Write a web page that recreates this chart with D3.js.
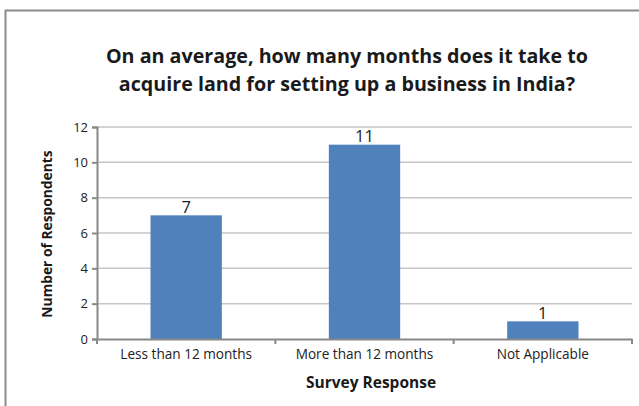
<!DOCTYPE html>
<html><head><meta charset="utf-8">
<script src="https://cdn.jsdelivr.net/npm/d3@7"></script>
<style>body{margin:0;background:#fff}svg{display:block}</style>
</head><body>
<svg id="c" width="639" height="406"></svg>
<script>
const categories = ["Less than 12 months", "More than 12 months", "Not Applicable"];
const values = [7, 11, 1];
const yTicks = [0, 2, 4, 6, 8, 10, 12];
const titleLines = ["On an average, how many months does it take to", "acquire land for setting up a business in India?"];
const xTitle = "Survey Response";
const yTitle = "Number of Respondents";

const svg = d3.select("#c");
const font = "'Open Sans', 'DejaVu Sans', sans-serif";
svg.append("rect").attr("x", 5.5).attr("y", 10.5).attr("width", 700).attr("height", 500)
  .attr("fill", "#fff").attr("stroke", "#8c8c8c").attr("stroke-width", 2);

const L = 97, R = 632, T = 127, B = 339;
const x = d3.scaleBand().domain(categories).range([L, R]).paddingInner(0.6).paddingOuter(0.3);
const y = d3.scaleLinear().domain([0, 12]).range([B, T]);

// gridlines
svg.append("g").selectAll("line").data(yTicks.filter(d => d > 0)).join("line")
  .attr("x1", L).attr("x2", R).attr("y1", d => y(d)).attr("y2", d => y(d))
  .attr("stroke", "#c6c6c6").attr("stroke-width", 1.5);

// bars
svg.append("g").selectAll("rect").data(values).join("rect")
  .attr("x", (d, i) => x(categories[i])).attr("width", x.bandwidth())
  .attr("y", d => y(d)).attr("height", d => y(0) - y(d)).attr("fill", "#4f81bd");

// data labels
svg.append("g").selectAll("text").data(values).join("text")
  .attr("x", (d, i) => x(categories[i]) + x.bandwidth() / 2).attr("y", d => y(d) - 2.5)
  .attr("text-anchor", "middle").attr("font-family", font).attr("font-size", 16.5).attr("fill", "#222")
  .text(d => d);

// y axis
const ya = svg.append("g").attr("transform", `translate(${L},0)`)
  .call(d3.axisLeft(y).tickValues(yTicks).tickSize(5).tickPadding(4));
ya.select(".domain").attr("stroke", "#888").attr("stroke-width", 2);
ya.selectAll(".tick line").attr("stroke", "#888").attr("stroke-width", 2);
ya.selectAll(".tick text").attr("font-family", font).attr("font-size", 13).attr("fill", "#222");

// x axis
const xa = svg.append("g").attr("transform", `translate(0,${B})`)
  .call(d3.axisBottom(x).tickSize(0).tickPadding(10));
xa.select(".domain").attr("stroke", "#888").attr("stroke-width", 2);
xa.selectAll(".tick text").attr("font-family", font).attr("font-size", 13.6).attr("fill", "#222");
const step = x.step();
const bounds = [0, 1, 2, 3].map(i => L + i * step);
xa.selectAll("line.sep").data(bounds).join("line").attr("class", "sep")
  .attr("x1", d => d).attr("x2", d => d).attr("y1", 0).attr("y2", 5)
  .attr("stroke", "#888").attr("stroke-width", 2);

// titles
svg.append("g").selectAll("text").data(titleLines).join("text")
  .attr("x", 347).attr("y", (d, i) => 63 + i * 28).attr("text-anchor", "middle")
  .attr("font-family", font).attr("font-weight", "bold").attr("font-size", 19.7).attr("fill", "#1a1a1a")
  .text(d => d);

svg.append("text").attr("x", 371).attr("y", 388).attr("text-anchor", "middle")
  .attr("font-family", font).attr("font-weight", "bold").attr("font-size", 15.5).attr("fill", "#1a1a1a")
  .text(xTitle);
svg.append("text").attr("transform", `translate(52,234) rotate(-90)`).attr("text-anchor", "middle")
  .attr("font-family", font).attr("font-weight", "bold").attr("font-size", 13.8).attr("fill", "#1a1a1a")
  .text(yTitle);
</script>
</body></html>
